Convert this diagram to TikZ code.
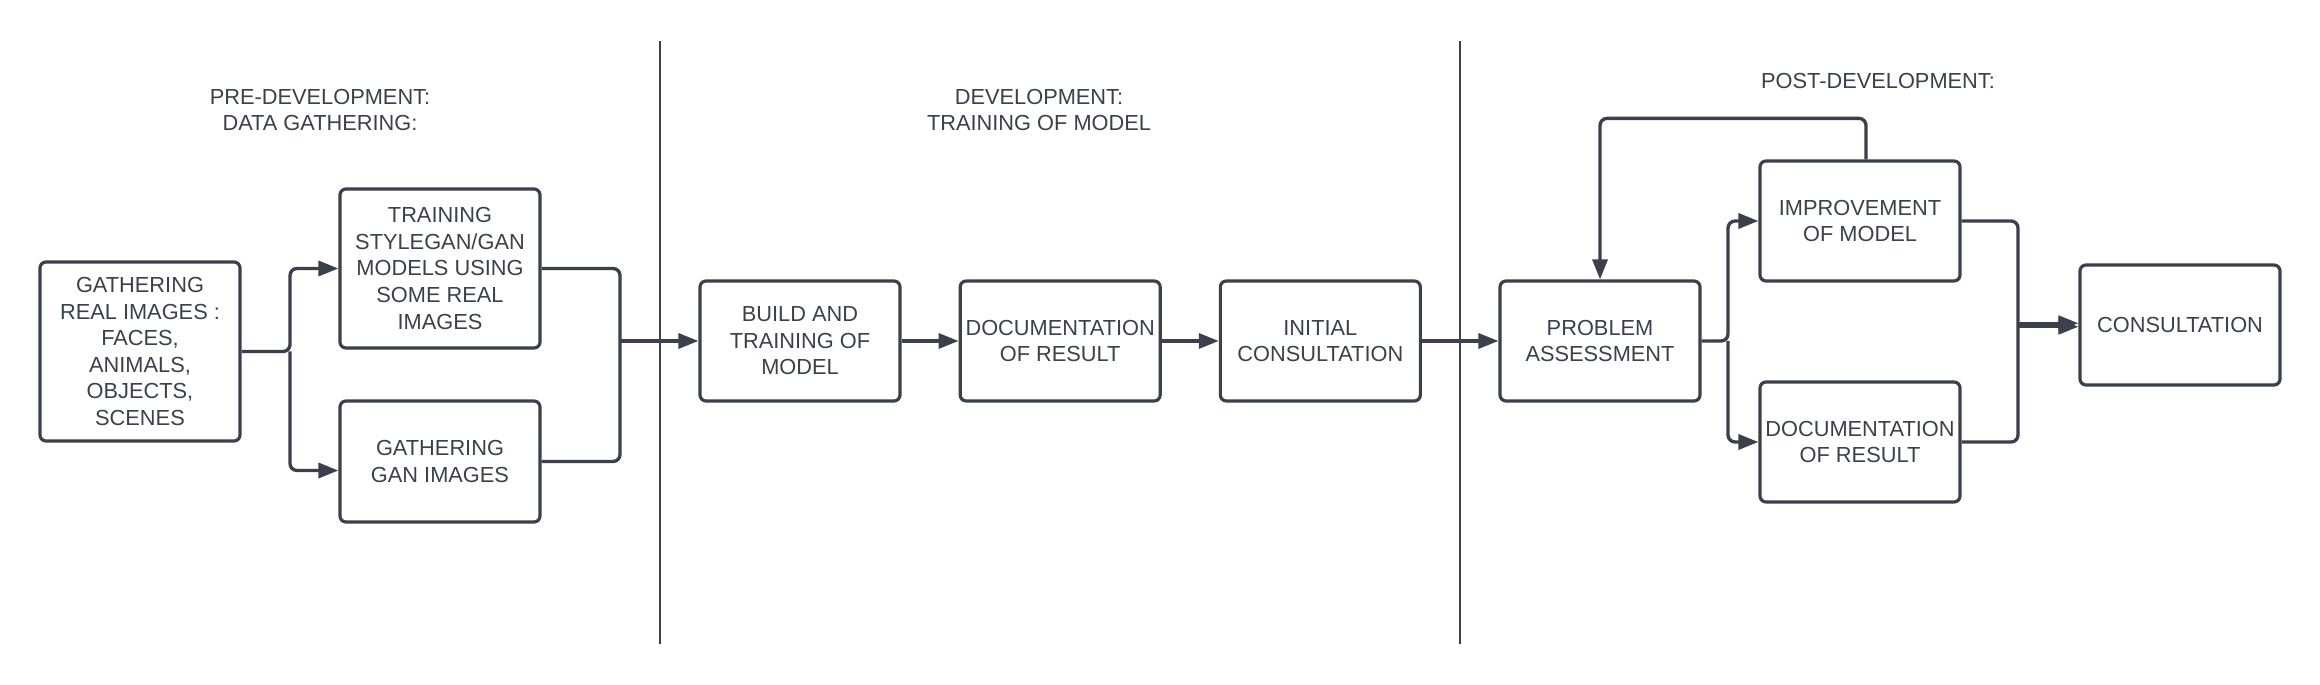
\documentclass[tikz,border=0pt]{standalone}
\usepackage{fontspec}
\setmainfont{Liberation Sans}
\usetikzlibrary{arrows.meta,positioning}
\definecolor{ink}{RGB}{58,65,74}

\begin{document}
\begin{tikzpicture}[>={Triangle[length=0.4cm,width=0.3cm]},
  color=ink, line width=1.9pt, rounded corners=0.14cm,
  box/.style={rectangle,draw,line width=1.8pt,rounded corners=0.12cm,minimum width=4cm,minimum height=2.4cm,
    align=center,inner sep=1pt,font=\fontsize{12.4}{15.1}\selectfont},
  phase/.style={align=center,font=\fontsize{12.4}{15.1}\selectfont},
  divider/.style={line width=1.4pt,sharp corners}]
\useasboundingbox (0,0) rectangle (46.4,13.68);

% phase titles and dividers
  \node[phase] (pre) at (6.4,11.48) {PRE-DEVELOPMENT:\\DATA GATHERING:};
  \node[phase] (dev) at (20.78,11.48) {DEVELOPMENT:\\TRAINING OF MODEL};
  \node[phase] (post) at (37.56,12.06) {POST-DEVELOPMENT:};
  \draw[divider] (13.2,0.8) -- (13.2,12.86);
  \draw[divider] (29.2,0.8) -- (29.2,12.86);

% pre-development
  \node[box,minimum height=3.58cm] (gather) at (2.8,6.65) {GATHERING\\REAL IMAGES :\\FACES,\\ANIMALS,\\OBJECTS,\\SCENES};
  \node[box,minimum height=3.18cm] (train) at (8.8,8.31) {TRAINING\\STYLEGAN/GAN\\MODELS USING\\SOME REAL\\IMAGES};
  \node[box,minimum height=2.42cm] (ganimg) at (8.8,4.45) {GATHERING\\GAN IMAGES};

  \coordinate (splitA) at (5.8,6.65);
  \draw[->] (gather.east) -- (splitA) |- (train.west);
  \draw[->] (splitA) |- ([yshift=-0.18cm]ganimg.west);

  \coordinate (mergeA) at (12.4,6.86);
  \draw (train.east) -| (mergeA);
  \draw (ganimg.east) -| (mergeA);

% development
  \node[box] (build) at (16,6.86) {BUILD AND\\TRAINING OF\\MODEL};
  \node[box,right=1.14cm of build] (docres) {DOCUMENTATION\\OF RESULT};
  \node[box,right=1.14cm of docres] (initial) {INITIAL\\CONSULTATION};

  \draw[->] (mergeA) -- (build.west);
  \draw[->] (build.east) -- (docres.west);
  \draw[->] (docres.east) -- (initial.west);

% post-development
  \node[box] (problem) at (32,6.86) {PROBLEM\\ASSESSMENT};
  \node[box] (improve) at (37.2,9.26) {IMPROVEMENT\\OF MODEL};
  \node[box] (docfinal) at (37.2,4.84) {DOCUMENTATION\\OF RESULT};
  \node[box] (consult) at (43.6,7.18) {CONSULTATION};

  \draw[->] (initial.east) -- (problem.west);

  \coordinate (splitB) at (34.56,6.86);
  \draw[->] (problem.east) -- (splitB) |- (improve.west);
  \draw[->] (splitB) |- (docfinal.west);

  \coordinate (mergeB) at (40.36,7.18);
  \draw (improve.east) -| (mergeB);
  \draw (docfinal.east) -| (mergeB);
  \draw[->] ([yshift=0.035cm]mergeB) -- ([yshift=0.035cm]consult.west);
  \draw[->] ([yshift=-0.035cm]mergeB) -- ([yshift=-0.035cm]consult.west);

% feedback loop
  \draw[->] ([xshift=0.12cm]improve.north) -- ++(0,0.82) -| (problem.north);

\end{tikzpicture}
\end{document}
